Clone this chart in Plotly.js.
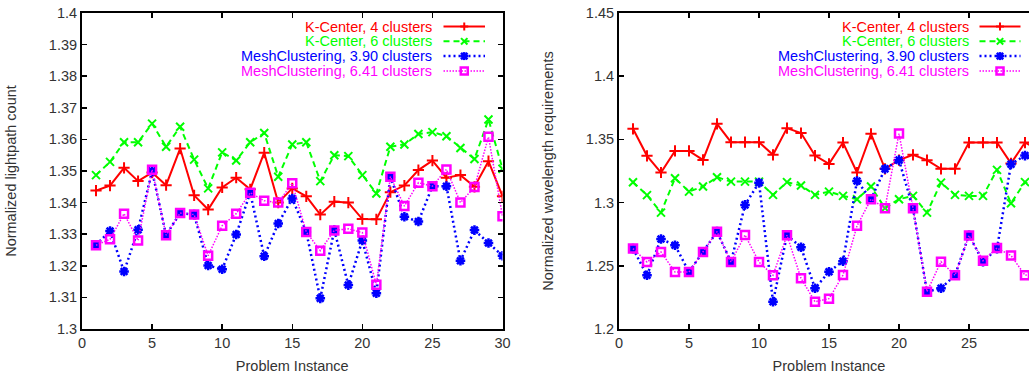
<!DOCTYPE html>
<html>
<head>
<meta charset="utf-8">
<script src="https://cdn.plot.ly/plotly-3.0.1.min.js"></script>
<style>
html,body{margin:0;padding:0;overflow:hidden;background:#fff;}
#chart{width:1060px;height:378px;}
</style>
</head>
<body>
<div id="chart"></div>
<script>
// ---------- data ----------
const instances = [1,2,3,4,5,6,7,8,9,10,11,12,13,14,15,16,17,18,19,20,21,22,23,24,25,26,27,28,29,30];
const seriesNames = ["K-Center, 4 clusters","K-Center, 6 clusters","MeshClustering, 3.90 clusters","MeshClustering, 6.41 clusters"];

// left: normalized lightpath count
const lpK4   = [1.3438,1.3454,1.3510,1.3468,1.3495,1.3455,1.3571,1.3423,1.3378,1.3448,1.3479,1.3442,1.3558,1.3400,1.3445,1.3420,1.3362,1.3403,1.3400,1.3348,1.3347,1.3433,1.3454,1.3503,1.3533,1.3479,1.3487,1.3450,1.3531,1.3420];
const lpK6   = [1.3487,1.3529,1.3591,1.3591,1.3650,1.3577,1.3640,1.3536,1.3445,1.3559,1.3533,1.3591,1.3620,1.3482,1.3584,1.3591,1.3468,1.3550,1.3547,1.3487,1.3429,1.3577,1.3584,1.3617,1.3623,1.3610,1.3573,1.3538,1.3663,1.3507];
const lpM390 = [1.3266,1.3310,1.3182,1.3314,1.3500,1.3297,1.3367,1.3362,1.3201,1.3189,1.3299,1.3431,1.3230,1.3334,1.3413,1.3307,1.3097,1.3313,1.3139,1.3280,1.3113,1.3482,1.3355,1.3340,1.3452,1.3452,1.3216,1.3313,1.3272,1.3232];
const lpM641 = [1.3265,1.3284,1.3365,1.3280,1.3504,1.3297,1.3367,1.3362,1.3232,1.3327,1.3365,1.3431,1.3406,1.3400,1.3461,1.3307,1.3248,1.3312,1.3317,1.3305,1.3140,1.3482,1.3389,1.3463,1.3452,1.3505,1.3400,1.3449,1.3608,1.3357];

// right: normalized wavelength requirements
const wlK4   = [1.3584,1.3370,1.3238,1.3409,1.3409,1.3338,1.3623,1.3478,1.3478,1.3478,1.3378,1.3589,1.3550,1.3372,1.3306,1.3475,1.3238,1.3544,1.3267,1.3336,1.3378,1.3336,1.3267,1.3267,1.3475,1.3475,1.3475,1.3310,1.3475,1.3420];
const wlK6   = [1.3161,1.3059,1.2921,1.3193,1.3087,1.3127,1.3201,1.3166,1.3166,1.3166,1.3061,1.3162,1.3135,1.3061,1.3087,1.3053,1.3027,1.3127,1.2956,1.3027,1.3053,1.2921,1.3158,1.3061,1.3053,1.3053,1.3259,1.2995,1.3162,1.3100];
const wlM390 = [1.2636,1.2425,1.2712,1.2663,1.2451,1.2609,1.2770,1.2530,1.2982,1.3158,1.2216,1.2742,1.2647,1.2322,1.2453,1.2536,1.3171,1.3027,1.3267,1.3336,1.2956,1.2295,1.2322,1.2425,1.2742,1.2533,1.2636,1.3304,1.3372,1.3300];
const wlM641 = [1.2636,1.2530,1.2609,1.2451,1.2451,1.2609,1.2770,1.2530,1.2744,1.2530,1.2425,1.2742,1.2401,1.2216,1.2240,1.2427,1.2816,1.3027,1.2956,1.3546,1.2956,1.2295,1.2533,1.2425,1.2740,1.2540,1.2640,1.2582,1.2425,1.2450];

const xTickValsLeft  = [0,5,10,15,20,25,30];
const xTickValsRight = [0,5,10,15,20,25];
const xTitle = "Problem Instance";
const yTitleLeft = "Normalized lightpath count";
const yTitleRight = "Normalized wavelength requirements";

// ---------- styles ----------
const FONT = "Liberation Sans, Arial, Helvetica, sans-serif";
const FS = 14.5;
const styles = [
  {color:"#ff0000", dash:"solid",       width:2,   symbol:"cross-thin",    size:8, mlw:2},
  {color:"#00ff00", dash:"6px,4px",     width:2,   symbol:"x-thin",        size:8, mlw:2},
  {color:"#0000ff", dash:"2px,3px",     width:2.5, symbol:"asterisk",      size:8, mlw:2.5},
  {color:"#ff00ff", dash:"1.5px,1.5px", width:1.5, symbol:"square-open",   size:8, mlw:2.5}
];

// ---------- geometry (pixels) ----------
const W = 1060, H = 378;
const mL = 82, mR = 21, mT = 13, mB = 49;
const PW = W - mL - mR, PH = H - mT - mB;
const px2x = p => (p - mL) / PW;
const py2y = p => (H - mB - p) / PH;
const leftEnd = 502.5, rightStart = 619;

function mk(xa, ya, ys, i) {
  const s = styles[i];
  return {
    x: instances, y: ys, xaxis: xa, yaxis: ya, type: "scatter", mode: "lines+markers",
    name: seriesNames[i], showlegend: false,
    line: {color: s.color, dash: s.dash, width: s.width},
    marker: {symbol: s.symbol, size: s.size, color: s.color, line: {color: s.color, width: s.mlw}}
  };
}

const data = [
  mk("x","y",lpK4,0), mk("x","y",lpK6,1), mk("x","y",lpM390,2), mk("x","y",lpM641,3),
  mk("x2","y2",wlK4,0), mk("x2","y2",wlK6,1), mk("x2","y2",wlM390,2), mk("x2","y2",wlM641,3)
];

function axX(domain, tv) {
  return {
    domain: domain, range: [0,30], tickvals: tv, ticks: "inside", ticklen: 5, tickwidth: 1.5,
    tickcolor: "#000", mirror: "allticks", showline: true, linewidth: 2, linecolor: "#000",
    showgrid: false, zeroline: false, tickfont: {family: FONT, size: FS, color: "#333"},
    title: {text: xTitle, font: {family: FONT, size: FS, color: "#333"}, standoff: 10}
  };
}
function axY(range, dtick, title, anchor) {
  return {
    domain: [0,1], range: range, dtick: dtick, tick0: range[0], ticks: "inside", ticklen: 5, tickwidth: 1.5,
    tickcolor: "#000", mirror: "allticks", showline: true, linewidth: 2, linecolor: "#000",
    showgrid: false, zeroline: false, anchor: anchor, tickfont: {family: FONT, size: FS, color: "#333"},
    title: {text: title, font: {family: FONT, size: FS, color: "#333"}, standoff: 29}
  };
}

// ---------- custom legend (text right-aligned, sample on right) ----------
const annotations = [], shapes = [];
function legend(textRight, sampleL, sampleR) {
  const rowY0 = 26.5, rowDy = 14.8;
  for (let i = 0; i < 4; i++) {
    const s = styles[i];
    const cy = rowY0 + rowDy * i;
    annotations.push({
      xref: "paper", yref: "paper", x: px2x(textRight), y: py2y(cy), xanchor: "right", yanchor: "middle",
      text: seriesNames[i], showarrow: false, font: {family: FONT, size: FS, color: s.color}, borderpad: 0
    });
    shapes.push({type: "line", xref: "paper", yref: "paper",
      x0: px2x(sampleL), x1: px2x(sampleR), y0: py2y(cy), y1: py2y(cy),
      line: {color: s.color, width: s.width, dash: s.dash}});
    const cx = (sampleL + sampleR) / 2, r = 4;
    const seg = (x0,y0,x1,y1,w) => shapes.push({type:"line", xref:"paper", yref:"paper",
      x0: px2x(x0), y0: py2y(y0), x1: px2x(x1), y1: py2y(y1), line:{color:s.color, width:w}});
    if (i === 0) { seg(cx-r,cy,cx+r,cy,2); seg(cx,cy-r,cx,cy+r,2); }
    else if (i === 1) { seg(cx-r*0.8,cy-r*0.8,cx+r*0.8,cy+r*0.8,2); seg(cx-r*0.8,cy+r*0.8,cx+r*0.8,cy-r*0.8,2); }
    else if (i === 2) { seg(cx-r,cy,cx+r,cy,2.5); seg(cx,cy-r,cx,cy+r,2.5);
      seg(cx-r*0.8,cy-r*0.8,cx+r*0.8,cy+r*0.8,2.5); seg(cx-r*0.8,cy+r*0.8,cx+r*0.8,cy-r*0.8,2.5); }
    else { shapes.push({type:"rect", xref:"paper", yref:"paper",
      x0: px2x(cx-3.5), x1: px2x(cx+3.5), y0: py2y(cy-3.5), y1: py2y(cy+3.5),
      line:{color:s.color, width:2.5}, fillcolor:"rgba(0,0,0,0)"}); }
  }
}
legend(433.3, 443.5, 485);
legend(970, 979.5, 1020.5);

const layout = {
  width: W, height: H, margin: {l: mL, r: mR, t: mT, b: mB, pad: 0},
  paper_bgcolor: "#fff", plot_bgcolor: "#fff", showlegend: false,
  xaxis: Object.assign(axX([0, px2x(leftEnd)], xTickValsLeft), {anchor: "y"}),
  yaxis: axY([1.3,1.4], 0.01, yTitleLeft, "x"),
  xaxis2: Object.assign(axX([px2x(rightStart), 1], xTickValsRight), {anchor: "y2"}),
  yaxis2: axY([1.2,1.45], 0.05, yTitleRight, "x2"),
  annotations: annotations, shapes: shapes
};

Plotly.newPlot("chart", data, layout, {staticPlot: true, displayModeBar: false});
</script>
</body>
</html>
